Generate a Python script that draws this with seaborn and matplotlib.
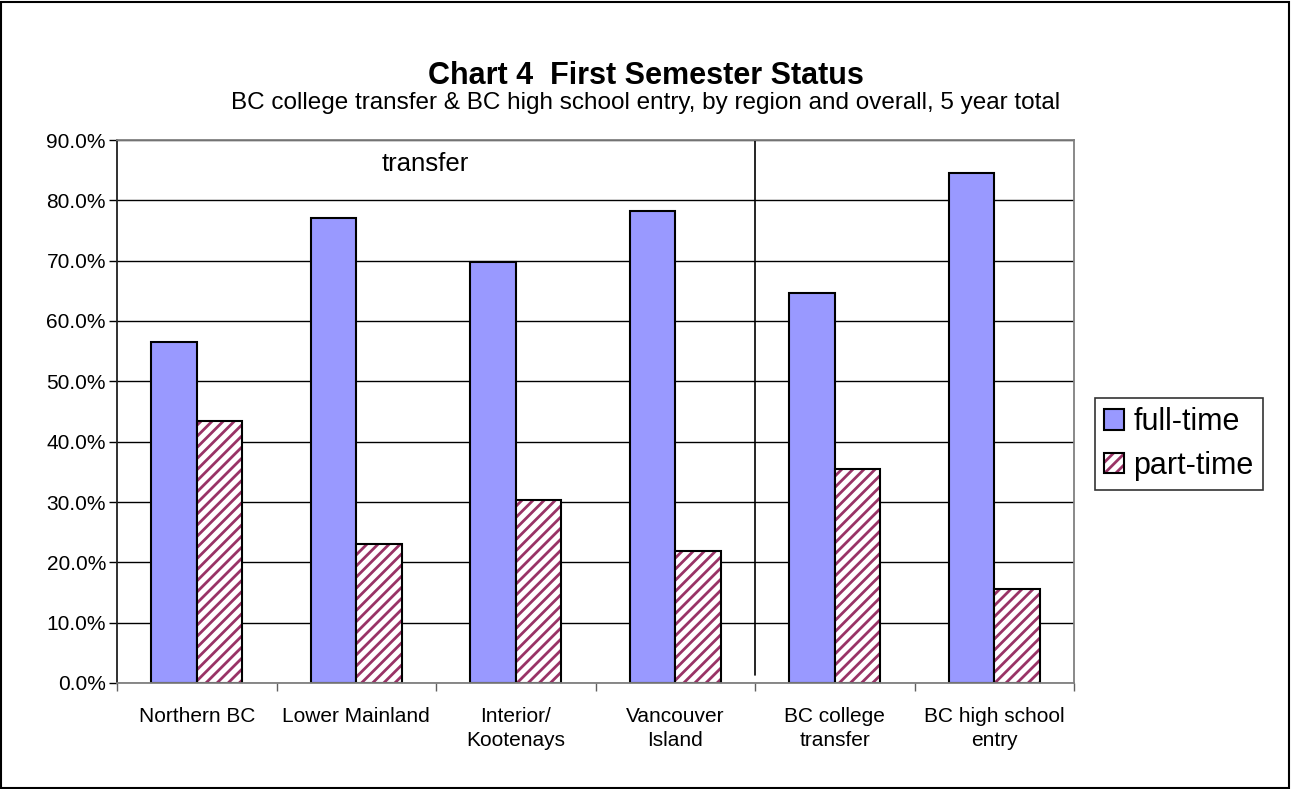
import matplotlib
matplotlib.use("Agg")
import matplotlib.pyplot as plt
from matplotlib.patches import Patch, Rectangle
from matplotlib.ticker import FixedLocator, PercentFormatter
import pandas as pd
import seaborn as sns

REGIONS = [
    "Northern BC",
    "Lower Mainland",
    "Interior/\nKootenays",
    "Vancouver\nIsland",
    "BC college\ntransfer",
    "BC high school\nentry",
]
FULL_TIME = [56.5, 77.0, 69.7, 78.2, 64.6, 84.5]
PART_TIME = [43.5, 23.0, 30.3, 21.8, 35.4, 15.5]
SERIES = ["full-time", "part-time"]
Y_TICKS = [0, 10, 20, 30, 40, 50, 60, 70, 80, 90]

FULL_COLOR = "#9999FF"
PART_COLOR = "#993366"

sns.set_theme(style="white")
plt.rcParams["font.family"] = ["Liberation Sans", "DejaVu Sans"]
plt.rcParams["hatch.linewidth"] = 2.0
for key in ["text.color", "axes.labelcolor", "xtick.color", "ytick.color"]:
    plt.rcParams[key] = "black"

df = pd.DataFrame({
    "region": REGIONS * 2,
    "status": [SERIES[0]] * len(REGIONS) + [SERIES[1]] * len(REGIONS),
    "pct": FULL_TIME + PART_TIME,
})

W, H = 1291, 789
fig = plt.figure(figsize=(W / 100, H / 100), dpi=100)
fig.patch.set_facecolor("white")
fig.add_artist(Rectangle((1 / W, 1 / H), 1 - 3 / W, 1 - 3 / H, transform=fig.transFigure,
                         fill=False, edgecolor="black", linewidth=1.5))

ax = fig.add_axes([117 / W, (H - 683) / H, (1074 - 117) / W, (683 - 140) / H])

sns.barplot(data=df, x="region", y="pct", hue="status", hue_order=SERIES,
            palette=[FULL_COLOR, PART_COLOR], width=0.57, gap=0, dodge=True,
            edgecolor="black", linewidth=1.5, saturation=1, legend=False, ax=ax)

# part-time bars: hatch in maroon on white, black outline drawn on top
n = len(REGIONS)
for patch in ax.patches[n:2 * n]:
    patch.set_facecolor("white")
    patch.set_edgecolor(PART_COLOR)
    patch.set_hatch("///")
    patch.set_linewidth(0)
    ax.add_patch(Rectangle(patch.get_xy(), patch.get_width(), patch.get_height(),
                           fill=False, edgecolor="black", linewidth=1.5, zorder=patch.get_zorder() + 0.1))
for patch in ax.patches[:n]:
    patch.set_facecolor(FULL_COLOR)

ax.set_ylim(0, 90)
ax.set_xlim(-0.5, n - 0.5)
ax.yaxis.set_major_locator(FixedLocator(Y_TICKS))
ax.yaxis.set_major_formatter(PercentFormatter(decimals=1))
ax.set_xlabel("")
ax.set_ylabel("")
ax.grid(axis="y", color="black", linewidth=1)
ax.set_axisbelow(True)
for side in ["top", "right", "bottom"]:
    ax.spines[side].set_color("#808080")
ax.spines["left"].set_color("#202020")
for sp in ax.spines.values():
    sp.set_linewidth(1.3)

ax.tick_params(axis="y", which="major", direction="out", length=6, width=1, color="black",
               labelsize=15, pad=2, left=True)
ax.tick_params(axis="x", which="major", length=0, labelsize=15, pad=17)
ax.xaxis.set_minor_locator(FixedLocator([i - 0.5 for i in range(n + 1)]))
ax.tick_params(axis="x", which="minor", direction="out", length=6, width=1, color="#606060", bottom=True)
for lbl in ax.get_xticklabels():
    lbl.set_linespacing(1.35)
    lbl.set_va("top")

# separator between regional and overall groups
ax.axvline(n - 2.5, ymin=0.015, ymax=1, color="black", linewidth=1.2)
ax.text(1.43, 86.0, "transfer", fontsize=18.5, ha="center", va="center")

fig.text(0.5, (H - 76) / H, "Chart 4  First Semester Status", ha="center", va="center",
         fontsize=22, fontweight="bold")
fig.text(0.5, (H - 103) / H,
         "BC college transfer & BC high school entry, by region and overall, 5 year total",
         ha="center", va="center", fontsize=17.5)

handles = [
    Patch(facecolor=FULL_COLOR, edgecolor="black", linewidth=1.5),
    (Patch(facecolor="white", edgecolor=PART_COLOR, hatch="///", linewidth=0),
     Patch(fill=False, edgecolor="black", linewidth=1.5)),
]
leg = fig.legend(handles, SERIES, loc="upper left", bbox_to_anchor=(1095 / W, (H - 398) / H),
                 fontsize=22, frameon=True, fancybox=False, edgecolor="black",
                 handlelength=0.65, handleheight=0.65, handletextpad=0.3,
                 borderpad=0.3, labelspacing=0.45, borderaxespad=0)
leg.get_frame().set_linewidth(1.2)

fig.savefig("out.png", dpi=100)
